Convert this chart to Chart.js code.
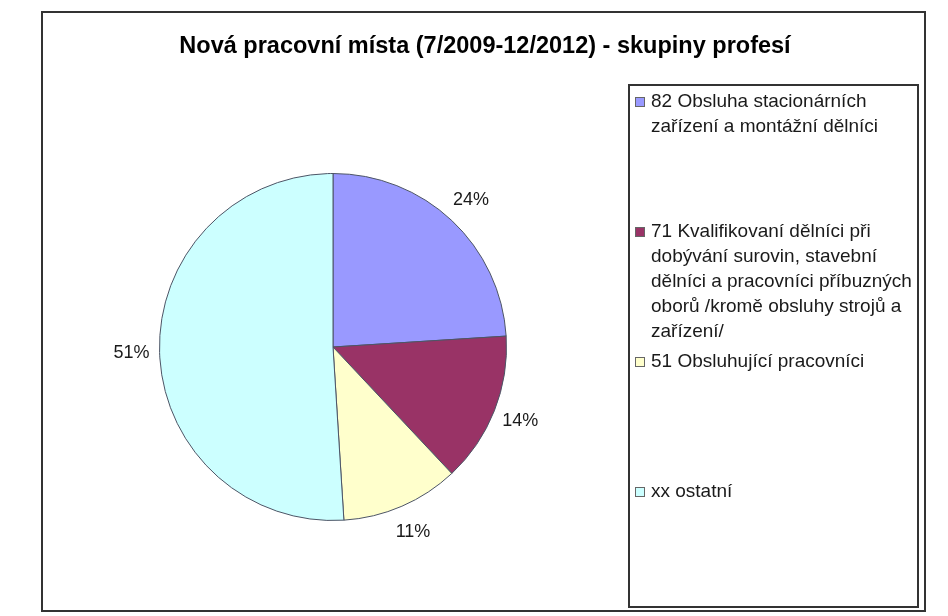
<!DOCTYPE html>
<html>
<head>
<meta charset="utf-8">
<script src="https://cdn.jsdelivr.net/npm/chart.js@4.4.0/dist/chart.umd.min.js"></script>
<style>
  html, body { margin: 0; padding: 0; background: #fff; }
  #wrap { width: 948px; height: 616px; }
</style>
</head>
<body>
<div id="wrap"><canvas id="pieChart"></canvas></div>
<script>
// Data
const chartTitle = "Nová pracovní místa (7/2009-12/2012) - skupiny profesí";
const categories = [
  ["82 Obsluha stacionárních", "zařízení a montážní dělníci"],
  ["71 Kvalifikovaní dělníci při", "dobývání surovin, stavební", "dělníci a pracovníci příbuzných", "oborů /kromě obsluhy strojů a", "zařízení/"],
  ["51 Obsluhující pracovníci"],
  ["xx ostatní"]
];
const shares = [24, 14, 11, 51];
const sliceColors = ["#9999FF", "#993366", "#FFFFCC", "#CCFFFF"];

const FONT = "'Liberation Sans', Arial, sans-serif";

// Frame, title and legend box (Excel style)
const excelDecor = {
  id: "excelDecor",
  beforeDraw(chart) {
    const ctx = chart.ctx;
    ctx.save();
    ctx.fillStyle = "#fff";
    ctx.fillRect(0, 0, chart.width, chart.height);

    ctx.strokeStyle = "#333";
    ctx.lineWidth = 2;
    ctx.strokeRect(42, 12, 883, 599);

    // title
    ctx.fillStyle = "#000";
    ctx.font = "bold 23.5px " + FONT;
    ctx.textAlign = "center";
    ctx.textBaseline = "middle";
    ctx.fillText(chartTitle, 485, 47);

    // legend
    ctx.strokeRect(629, 85, 289, 522);
    ctx.font = "19px " + FONT;
    ctx.textAlign = "left";
    const colors = chart.data.datasets[0].backgroundColor;
    chart.data.labels.forEach((lines, i) => {
      const top = 102 + i * 130;
      ctx.fillStyle = colors[i];
      ctx.fillRect(635, top - 5, 10, 10);
      ctx.strokeStyle = "#666";
      ctx.lineWidth = 1;
      ctx.strokeRect(635.5, top - 4.5, 9, 9);
      ctx.fillStyle = "#1a1a1a";
      lines.forEach((line, j) => {
        ctx.fillText(line, 651, top + j * 25);
      });
    });
    ctx.restore();
  },
  afterDatasetsDraw(chart) {
    const ctx = chart.ctx;
    ctx.save();
    ctx.fillStyle = "#1a1a1a";
    ctx.font = "18px " + FONT;
    ctx.textAlign = "center";
    ctx.textBaseline = "middle";
    chart.getDatasetMeta(0).data.forEach((arc, i) => {
      const p = arc.getProps(["x", "y", "startAngle", "endAngle", "outerRadius"], true);
      const mid = (p.startAngle + p.endAngle) / 2;
      const r = p.outerRadius + 28;
      ctx.fillText(shares[i] + "%", p.x + Math.cos(mid) * r, p.y + Math.sin(mid) * r);
    });
    ctx.restore();
  }
};

const pieChart = new Chart(document.getElementById("pieChart"), {
  type: "pie",
  data: {
    labels: categories,
    datasets: [
      {
        data: shares,
        backgroundColor: sliceColors,
        borderColor: "#4d5566",
        borderWidth: 1,
        hoverOffset: 0,
      },
    ],
  },
  options: {
    responsive: true,
    maintainAspectRatio: false,
    animation: false,
    layout: {
      padding: { left: 159, right: 441, top: 173, bottom: 95 },
    },
    plugins: {
      legend: { display: false },
      tooltip: { enabled: false },
      title: { display: false },
    },
  },
  plugins: [excelDecor],
});
</script>
</body>
</html>
